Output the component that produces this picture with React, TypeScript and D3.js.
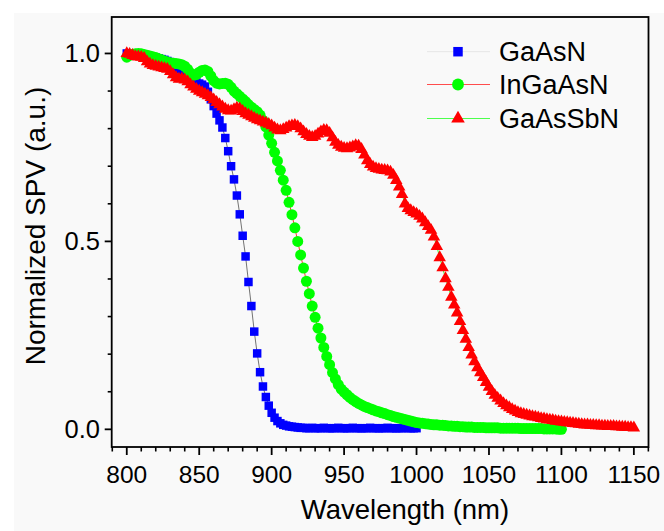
import React from "react";
import * as d3 from "d3";

// Wavelength grid of the measurements (nm)
const X_START = 800;
const X_STEP = 2;

const seriesNames = ["GaAsN", "InGaAsN", "GaAsSbN"];

// GaAsN: 800 .. 1000 nm
const gaAsN = [
  1.000, 0.999, 0.998, 0.997, 0.996, 0.995, 0.994, 0.993, 0.992, 0.990,
  0.989, 0.987, 0.985, 0.983, 0.980, 0.977, 0.972, 0.965, 0.958, 0.950,
  0.944, 0.938, 0.933, 0.928, 0.924, 0.920, 0.917, 0.912, 0.898, 0.878,
  0.860, 0.840, 0.822, 0.803, 0.775, 0.740, 0.700, 0.665, 0.622, 0.572,
  0.515, 0.460, 0.392, 0.328, 0.260, 0.202, 0.152, 0.114, 0.086, 0.063,
  0.044, 0.031, 0.022, 0.016, 0.012, 0.010, 0.008, 0.007, 0.006, 0.005,
  0.004,
  0.004, 0.003, 0.003, 0.004, 0.003, 0.003, 0.003, 0.004, 0.003, 0.003,
  0.003, 0.003, 0.004, 0.003, 0.003, 0.003, 0.003, 0.004, 0.003, 0.003,
  0.003, 0.003, 0.003, 0.004, 0.003, 0.003, 0.003, 0.003, 0.003, 0.004,
  0.003, 0.003, 0.003, 0.003, 0.003, 0.004, 0.003, 0.003, 0.003, 0.003,
];

// InGaAsN: 800 .. 1100 nm
const inGaAsN = [
  0.990, 0.995, 0.998, 0.999, 1.000, 0.999, 0.997, 0.995, 0.993, 0.991,
  0.989, 0.986, 0.983, 0.980, 0.977, 0.975, 0.974, 0.973, 0.972, 0.970,
  0.966, 0.958, 0.948, 0.942, 0.944, 0.950, 0.955, 0.956, 0.952, 0.940,
  0.928, 0.921, 0.919, 0.920, 0.921, 0.918, 0.910, 0.900, 0.893, 0.886,
  0.879, 0.872, 0.864, 0.857, 0.851, 0.845, 0.836, 0.822, 0.805, 0.783,
  0.761, 0.737, 0.714, 0.689, 0.663, 0.636, 0.604, 0.571, 0.536, 0.500,
  0.464, 0.429, 0.394, 0.361, 0.328, 0.298, 0.269, 0.243, 0.218, 0.194,
  0.172, 0.151, 0.134, 0.119, 0.107, 0.099, 0.092, 0.085, 0.079, 0.074,
  0.069, 0.065, 0.061, 0.058, 0.055, 0.052, 0.049, 0.047, 0.044, 0.042,
  0.039, 0.037, 0.034, 0.032, 0.030, 0.028, 0.026, 0.024, 0.022, 0.020,
  0.018, 0.017, 0.016, 0.015, 0.014, 0.013, 0.012, 0.012, 0.011, 0.011,
  0.010, 0.009, 0.009, 0.008, 0.008, 0.007, 0.007, 0.006, 0.006, 0.006,
  0.005, 0.005, 0.005, 0.005, 0.004, 0.004, 0.004, 0.004, 0.004, 0.003,
  0.003, 0.003, 0.003, 0.003, 0.003, 0.003, 0.002, 0.002, 0.002, 0.002,
  0.002, 0.002, 0.002, 0.002, 0.001, 0.001, 0.001, 0.001, 0.001, 0.000,
  0.000,
];

// GaAsSbN: 800 .. 1150 nm
const gaAsSbN = [
  1.000, 0.998, 0.995, 0.992, 0.991, 0.990, 0.987, 0.978, 0.972, 0.968,
  0.966, 0.964, 0.962, 0.960, 0.958, 0.952, 0.944, 0.936, 0.932, 0.933,
  0.930, 0.925, 0.917, 0.911, 0.905, 0.900, 0.896, 0.892, 0.888, 0.883,
  0.877, 0.870, 0.864, 0.858, 0.852, 0.848, 0.847, 0.851, 0.855, 0.853,
  0.846, 0.840, 0.836, 0.832, 0.828, 0.824, 0.821, 0.818, 0.815, 0.812,
  0.808, 0.802, 0.797, 0.795, 0.798, 0.802, 0.806, 0.808, 0.809, 0.806,
  0.800, 0.792, 0.785, 0.780, 0.777, 0.780, 0.786, 0.792, 0.796, 0.795,
  0.788, 0.776, 0.764, 0.756, 0.751, 0.748, 0.747, 0.749, 0.752, 0.755,
  0.754, 0.745, 0.730, 0.715, 0.705, 0.698, 0.694, 0.692, 0.690, 0.689,
  0.688, 0.685, 0.676, 0.662, 0.645, 0.625, 0.600, 0.588, 0.582, 0.577,
  0.573, 0.567, 0.560, 0.550, 0.540, 0.530, 0.512, 0.487, 0.457, 0.430,
  0.401, 0.378, 0.352, 0.331, 0.310, 0.287, 0.263, 0.240, 0.218, 0.198,
  0.180, 0.164, 0.151, 0.138, 0.125, 0.112, 0.101, 0.091, 0.083, 0.076,
  0.069, 0.063, 0.058, 0.053, 0.049, 0.045, 0.042, 0.040, 0.038, 0.036,
  0.034, 0.033, 0.031, 0.029, 0.028, 0.026, 0.025, 0.024, 0.022, 0.021,
  0.020, 0.019, 0.018, 0.017, 0.016, 0.015, 0.014, 0.013, 0.012, 0.012,
  0.011, 0.011, 0.010, 0.010, 0.009, 0.009, 0.008, 0.008, 0.008, 0.007,
  0.007, 0.006, 0.006, 0.005, 0.005, 0.004,
];

const xTickValues = [800, 850, 900, 950, 1000, 1050, 1100, 1150];
const yTickValues = [0.0, 0.5, 1.0];
const yTickLabels = ["0.0", "0.5", "1.0"];
const xTitle = "Wavelength (nm)";
const yTitle = "Normalized SPV (a.u.)";

const FONT = "'Liberation Sans', Arial, Helvetica, sans-serif";

export default function App() {
  const W = 664;
  const H = 531;
  const left = 111.7, right = 648.5, top = 17, bottom = 447;
  const x = d3.scaleLinear().domain([789.6, 1160.1]).range([left, right]);
  const y = d3.scaleLinear().domain([-0.047, 1.097]).range([bottom, top]);

  const series = [
    { name: seriesNames[0], values: gaAsN, color: "#0000ff", symbol: d3.symbolSquare, size: 72, line: "#3a3a3a", lineW: 0.7, legendLine: "#e6e6e6", legendSize: 90 },
    { name: seriesNames[1], values: inGaAsN, color: "#00ff00", symbol: d3.symbolCircle, size: 95, line: "#ff0000", lineW: 0.8, legendLine: "#ff4d4d", legendSize: 110 },
    { name: seriesNames[2], values: gaAsSbN, color: "#ff0000", symbol: d3.symbolTriangle, size: 68, line: "#00ff00", lineW: 0.8, legendLine: "#4dff4d", legendSize: 80 },
  ];

  const xMinor = d3.range(790, 1161, 10).filter((v) => v % 50 !== 0 && v >= 789.6 && v <= 1160.1);
  const yMinor = d3.range(1, 10).filter((i) => i !== 5).map((i) => i / 10);

  const legendRows = [51.7, 84.5, 118.5];

  return (
    <svg width={W} height={H} style={{ position: "absolute", left: 0, top: 0 }} fontFamily={FONT}>
      <rect x={0} y={0} width={W} height={H} fill="#ffffff" />
      <rect x={14} y={13} width={W - 14} height={H - 13} fill="#f9f9f9" />

      {/* series */}
      {series.map((s, si) => {
        const pts = s.values.map((v, i) => [X_START + i * X_STEP, v] as [number, number]);
        const line = d3.line<[number, number]>().x((d) => x(d[0])).y((d) => y(d[1]));
        const sym = d3.symbol().type(s.symbol).size(s.size)() as string;
        return (
          <g key={si}>
            <path d={line(pts) as string} fill="none" stroke={s.line} strokeWidth={s.lineW} />
            {pts.map((p, i) => (
              <path key={i} d={sym} transform={`translate(${x(p[0])},${y(p[1])})`} fill={s.color} />
            ))}
          </g>
        );
      })}

      {/* frame */}
      <rect x={left} y={top} width={right - left} height={bottom - top} fill="none" stroke="#000" strokeWidth={1.8} />

      {/* x axis ticks */}
      {xTickValues.map((t) => (
        <g key={t}>
          <line x1={x(t)} x2={x(t)} y1={bottom} y2={bottom + 8} stroke="#000" strokeWidth={1.8} />
          <text x={x(t)} y={483} fontSize={24.5} textAnchor="middle" fill="#000">{t}</text>
        </g>
      ))}
      {xMinor.map((t) => (
        <line key={t} x1={x(t)} x2={x(t)} y1={bottom} y2={bottom + 4.5} stroke="#000" strokeWidth={1.6} />
      ))}

      {/* y axis ticks */}
      {yTickValues.map((t, i) => (
        <g key={t}>
          <line x1={left - 7} x2={left} y1={y(t)} y2={y(t)} stroke="#000" strokeWidth={1.8} />
          <text x={100} y={y(t) + 9} fontSize={25.5} textAnchor="end" fill="#000">{yTickLabels[i]}</text>
        </g>
      ))}
      {yMinor.map((t) => (
        <line key={t} x1={left - 4} x2={left} y1={y(t)} y2={y(t)} stroke="#000" strokeWidth={1.6} />
      ))}

      {/* titles */}
      <text x={405} y={519} fontSize={27.5} textAnchor="middle" fill="#000">{xTitle}</text>
      <text transform="translate(45,226) rotate(-90)" fontSize={28} textAnchor="middle" fill="#000">{yTitle}</text>

      {/* legend */}
      {series.map((s, i) => {
        const ly = legendRows[i];
        const sym = d3.symbol().type(s.symbol).size(s.legendSize)() as string;
        return (
          <g key={s.name}>
            <line x1={427} x2={490} y1={ly} y2={ly} stroke={s.legendLine} strokeWidth={1} />
            <path d={sym} transform={`translate(458,${ly})`} fill={s.color} />
            <text x={499} y={ly + 9} fontSize={27} fill="#000">{s.name}</text>
          </g>
        );
      })}
    </svg>
  );
}
